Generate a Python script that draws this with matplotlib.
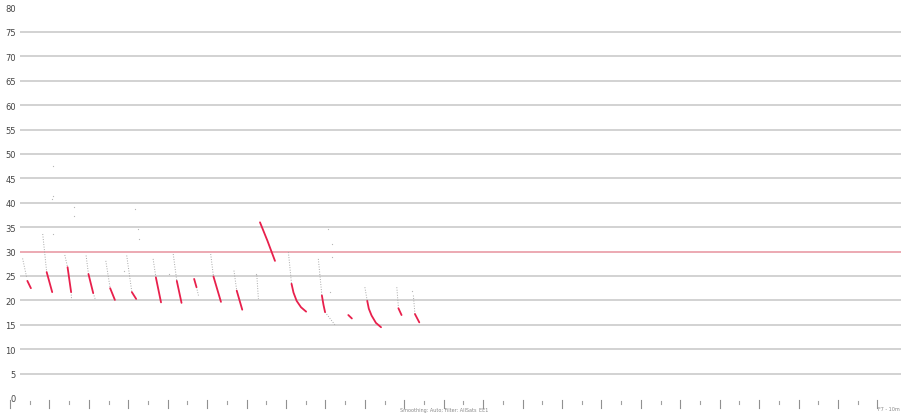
import matplotlib
matplotlib.use("Agg")
import matplotlib.pyplot as plt
import matplotlib.transforms as mtransforms

# Value axis
y_ticks = list(range(0, 85, 5))
threshold = 30

# Time axis: major tick every unit, minor tick half-way between
major_ticks = list(range(0, 23))
minor_ticks = [m + 0.5 for m in range(0, 22)]

# Faint (unfiltered) part of each pass: x (time), y (value)
grey_x = [
    [0.32, 0.42], [0.83, 0.93], [1.39, 1.46], [1.55, 1.56], [1.93, 1.99],
    [2.11, 2.16], [2.43, 2.54], [2.96, 3.09], [3.63, 3.70], [4.14, 4.23],
    [4.73, 4.78], [5.09, 5.16], [5.68, 5.75], [6.26, 6.30], [7.06, 7.14],
    [7.82, 7.91], [7.99, 8.24], [9.00, 9.06], [9.81, 9.85], [10.23, 10.27],
]
grey_y = [
    [28.6, 24.8], [33.6, 25.8], [29.3, 26.8], [21.7, 20.3], [29.2, 25.4],
    [21.5, 20.3], [28.1, 22.5], [29.2, 21.7], [28.5, 24.7], [29.5, 24.0],
    [22.7, 21.0], [29.5, 24.9], [26.1, 22.0], [25.1, 20.3], [29.9, 23.4],
    [28.5, 21.0], [17.6, 15.0], [22.7, 19.9], [22.7, 18.6], [21.0, 17.2],
]

# Highlighted part of each pass
red_x = [
    [0.44, 0.53], [0.93, 1.07], [1.46, 1.55], [1.99, 2.11], [2.54, 2.66],
    [3.09, 3.20], [3.70, 3.83], [4.23, 4.35], [4.67, 4.73], [5.16, 5.35],
    [5.75, 5.89], [6.34, 6.53, 6.72],
    [7.14, 7.19, 7.27, 7.38, 7.51],
    [7.91, 7.95, 7.99],
    [8.58, 8.67],
    [9.06, 9.10, 9.17, 9.28, 9.41],
    [9.85, 9.93], [10.27, 10.38],
]
red_y = [
    [24.0, 22.5], [25.8, 21.7], [26.8, 21.7], [25.4, 21.5], [22.5, 20.1],
    [21.7, 20.3], [24.7, 19.6], [24.0, 19.5], [24.4, 22.7], [24.9, 19.7],
    [22.0, 18.1], [36.0, 32.2, 28.1],
    [23.4, 21.6, 19.9, 18.6, 17.7],
    [21.0, 19.1, 17.6],
    [17.0, 16.3],
    [19.9, 18.3, 16.9, 15.4, 14.5],
    [18.4, 17.0], [17.2, 15.5],
]

# Isolated faint samples
dots_x = [1.09, 1.09, 1.07, 1.10, 1.62, 1.62, 3.17, 3.24, 3.26, 6.25,
          8.07, 8.17, 8.16, 8.11, 2.90, 4.02, 5.20, 10.20]
dots_y = [47.5, 41.4, 40.8, 33.6, 39.1, 37.3, 38.7, 34.6, 32.6, 25.4,
          34.6, 31.6, 28.9, 21.7, 26.0, 25.5, 23.5, 22.0]

footer = "Smoothing: Auto; Filter: AllSats_EE1"
corner = "F7 - 10m"

W, H = 901, 414
fig = plt.figure(figsize=(W / 100, H / 100), dpi=100)
fig.patch.set_facecolor("white")

x_left_px, y0_px, y80_px = 20, 399, 8.6
ax = fig.add_axes([x_left_px / W, (H - y0_px) / H, 1 - x_left_px / W,
                   (y0_px - y80_px) / H])
unit_px = 39.43
ax.set_xlim((x_left_px - 10) / unit_px, (W - 10) / unit_px)
ax.set_ylim(0, 80)
for s in ax.spines.values():
    s.set_visible(False)

# Horizontal grid
for v in y_ticks[1:-1]:
    if v == threshold:
        ax.axhline(v, color="#eba3ad", lw=1.3, zorder=1)
    else:
        ax.axhline(v, color="#cfcfcf", lw=1.3, zorder=1)

ax.set_yticks(y_ticks)
ax.set_yticklabels([str(v) for v in y_ticks], fontsize=6, color="#444444")
ax.tick_params(axis="y", length=0, pad=3)
ax.set_xticks([])

# Passes
for xs, ys in zip(grey_x, grey_y):
    ax.plot(xs, ys, color="#a8a8a8", lw=0.7, ls=(0, (1, 1.6)), zorder=2)
for xs, ys in zip(red_x, red_y):
    ax.plot(xs, ys, color="#e8204c", lw=1.3, solid_capstyle="round",
            solid_joinstyle="round", zorder=3)
ax.scatter(dots_x, dots_y, s=0.8, color="#b5b5b5", zorder=2, linewidths=0)

# Time ticks below the plot area
trans = mtransforms.blended_transform_factory(ax.transData, fig.transFigure)
for m in major_ticks:
    ax.plot([m, m], [(H - 401) / H, (H - 409) / H], color="#909090", lw=0.8,
            transform=trans, clip_on=False)
for m in minor_ticks:
    ax.plot([m, m], [(H - 402) / H, (H - 405) / H], color="#a0a0a0", lw=0.8,
            transform=trans, clip_on=False)

fig.text(400 / W, (H - 410) / H, footer, fontsize=3.5, color="#888888",
         ha="left", va="center")
fig.text(878 / W, (H - 410) / H, corner, fontsize=3.5, color="#888888",
         ha="left", va="center")

fig.savefig("out.png", dpi=100, facecolor="white")
